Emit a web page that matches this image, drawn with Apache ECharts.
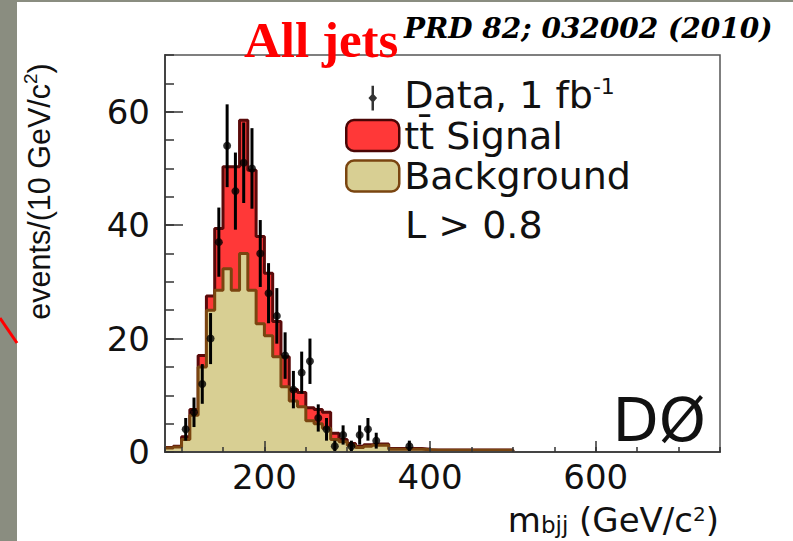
<!DOCTYPE html>
<html>
<head>
<meta charset="utf-8">
<script src="https://cdn.jsdelivr.net/npm/echarts@6/dist/echarts.min.js"></script>
<style>
html,body{margin:0;padding:0;background:#ffffff;}
#chart{width:793px;height:541px;}
</style>
</head>
<body>
<div id="chart"></div>
<script>
// ---- data (10 GeV bins, low edges) ----
const binLow = [80,90,100,110,120,130,140,150,160,170,180,190,200,210,220,230,240,250,260,270,280,290,300,310,320,330,340,350,360,370,380,390,400,410,420,430,440,450,460,470,480,490];
const binEnd = 500;
const backgroundValues = [0.7,0.9,2.2,6.5,15,25,28.5,32.3,28.5,35,28.5,22.6,20.5,16.8,11.5,9,8,5.5,5,4.2,2.2,1.8,1.2,0.8,1.0,1.2,1.2,0.5,0.5,0.5,0.5,0.4,0.3,0.3,0.3,0.3,0.3,0.3,0.3,0.3,0.3,0.3];
const signalValues = [0.1,0.1,0.5,1.0,2,2.5,10.9,18,21.8,23.5,21.2,15.4,11,6.2,5.3,2,2.5,2.3,2.5,2.8,1.1,0.4,0.3,0.2,0.3,0.2,0.2,0.1,0.1,0.1,0.1,0.1,0.05,0.05,0.05,0.05,0.05,0.05,0.05,0.05,0.05,0.05];
const dataMass = [105,115,125,135,145,155,165,175,185,195,205,215,225,235,245,255,265,275,285,295,305,315,325,335,375];
const dataCounts = [4,7,12,20,37,54,46,51,50,35,28,24,17,11,14,16,6,4,1,3,1,3,4,2,1];
const dataErrors = [2,2.6,3.5,4.5,6.1,7.3,6.8,7.1,7.1,5.9,5.3,4.9,4.1,3.3,3.7,4,2.4,2,1,1.7,1,1.7,2,1.4,1];
const xRange = [80, 750];
const yRange = [0, 70];

// ---- build series data ----
const totalStep = binLow.map((x, i) => [x, +(backgroundValues[i] + signalValues[i]).toFixed(3)]);
totalStep.push([binEnd, 0]);
const bkgStep = binLow.map((x, i) => [x, backgroundValues[i]]);
bkgStep.push([binEnd, 0]);
const dataPoints = dataMass.map((m, i) => [m, dataCounts[i]]);
const errorData = dataMass.map((m, i) => [m, dataCounts[i], dataErrors[i]]);

const SANS = "'DejaVu Sans', 'Liberation Sans', sans-serif";
const NARROW = "'Liberation Sans', sans-serif";
const SIG_NAME = 't' + 't\u0304' + ' Signal';

const chart = echarts.init(document.getElementById('chart'), null, {renderer: 'svg'});

const option = {
  animation: false,
  backgroundColor: '#ffffff',
  grid: {
    left: 165, right: 73, top: 55, bottom: 89,
    show: true, borderColor: '#555555', borderWidth: 1.5,
    backgroundColor: 'transparent',
    outerBoundsMode: 'none'
  },
  xAxis: [
    {
      type: 'value', min: xRange[0], max: xRange[1], splitNumber: 13, z: 10,
      axisLine: {show: true, lineStyle: {color: '#444', width: 2}},
      axisTick: {show: true, inside: true, length: 5, lineStyle: {color: '#333', width: 1.5}},
      axisLabel: {show: false},
      splitLine: {show: false}
    },
    {
      type: 'value', min: xRange[0], max: xRange[1], splitNumber: 3, position: 'bottom', z: 11,
      axisLine: {show: false},
      axisTick: {show: true, inside: true, length: 11, lineStyle: {color: '#333', width: 1.5}},
      axisLabel: {show: true, margin: 8, showMinLabel: false, showMaxLabel: false,
        fontFamily: SANS, fontSize: 34, lineHeight: 34, color: '#111'},
      splitLine: {show: false}
    }
  ],
  yAxis: [
    {
      type: 'value', min: yRange[0], max: yRange[1], interval: 5, z: 10,
      axisLine: {show: true, lineStyle: {color: '#444', width: 2}},
      axisTick: {show: true, inside: true, length: 9, lineStyle: {color: '#333', width: 1.5}},
      axisLabel: {show: false},
      splitLine: {show: false}
    },
    {
      type: 'value', min: yRange[0], max: yRange[1], interval: 20, position: 'left', z: 11,
      axisLine: {show: false},
      axisTick: {show: true, inside: true, length: 18, lineStyle: {color: '#333', width: 1.5}},
      axisLabel: {show: true, margin: 15, showMaxLabel: false,
        fontFamily: SANS, fontSize: 34, color: '#111'},
      splitLine: {show: false},
      name: 'events/(10 GeV/c{sup|2})',
      nameLocation: 'middle', nameGap: 126,
      nameTextStyle: {
        fontFamily: NARROW, fontSize: 30.5, color: '#111', verticalAlign: 'middle', align: 'center',
        lineHeight: 36, padding: [0, 0, 0, 124],
        rich: {
          sup: {fontFamily: NARROW, fontSize: 19, lineHeight: 17, verticalAlign: 'top', color: '#111'}
        }
      }
    }
  ],
  legend: {
    orient: 'vertical', left: 340, top: 70,
    itemWidth: 53, itemHeight: 31, itemGap: 0.5, itemTextGap: 12,
    textStyle: {
      fontFamily: SANS, fontSize: 38, color: '#111', lineHeight: 40,
      rich: {sup: {fontFamily: SANS, fontSize: 22, lineHeight: 20, verticalAlign: 'top', color: '#111'}}
    },
    formatter: function (name) { return name === 'Data' ? 'Data, 1 fb{sup|-1}' : name; },
    selectedMode: false,
    data: [
      {name: 'Data', icon: 'path://M7,0 L13,0 L13,0 Z M9,5 L11,5 L11,25 L9,25 Z M10,11 L13.5,15 L10,19 L6.5,15 Z',
        itemStyle: {color: '#000000', borderWidth: 0}},
      {name: SIG_NAME, icon: 'roundRect', itemStyle: {color: '#ff3838', borderColor: '#4a0505', borderWidth: 2.5}},
      {name: 'Background', icon: 'roundRect', itemStyle: {color: '#d8cf93', borderColor: '#7a4510', borderWidth: 2.5}}
    ]
  },
  series: [
    {
      name: SIG_NAME, type: 'line', step: 'end', data: totalStep,
      xAxisIndex: 0, yAxisIndex: 0, symbol: 'none', z: 2,
      itemStyle: {color: '#ff3838', borderColor: '#4a0505'},
      lineStyle: {color: '#5a0a0a', width: 3},
      areaStyle: {color: '#ff3838', opacity: 1}
    },
    {
      name: 'Background', type: 'line', step: 'end', data: bkgStep,
      xAxisIndex: 0, yAxisIndex: 0, symbol: 'none', z: 3,
      itemStyle: {color: '#d8cf93', borderColor: '#7a4510'},
      lineStyle: {color: '#7a4510', width: 3},
      areaStyle: {color: '#d8cf93', opacity: 1}
    },
    {
      name: 'Data errors', type: 'custom', data: errorData,
      xAxisIndex: 0, yAxisIndex: 0, z: 5, silent: true, clip: true,
      renderItem: function (params, api) {
        const x = api.value(0), y = api.value(1), e = api.value(2);
        const p1 = api.coord([x, Math.max(0, y - e)]);
        const p2 = api.coord([x, y + e]);
        return {type: 'line', shape: {x1: p1[0], y1: p1[1], x2: p2[0], y2: p2[1]},
          style: {stroke: '#000000', lineWidth: 3}};
      }
    },
    {
      name: 'Data', type: 'scatter', data: dataPoints,
      xAxisIndex: 0, yAxisIndex: 0, z: 6, symbol: 'circle', symbolSize: 8,
      itemStyle: {color: '#000000'}
    }
  ],
  graphic: [
    {type: 'rect', left: 0, top: 0, shape: {width: 17, height: 541}, style: {fill: '#8a8d80'}, silent: true},
    {type: 'rect', left: 0, top: 0, shape: {width: 793, height: 2}, style: {fill: '#8a8d80'}, silent: true},
    {type: 'line', shape: {x1: 0, y1: 318, x2: 17, y2: 343}, style: {stroke: '#ff0000', lineWidth: 3}, silent: true},
    {type: 'text', x: 244, y: 40, silent: true,
      style: {text: 'All jets', fill: '#ff0000', font: "bold 51px 'Liberation Serif', serif", align: 'left', verticalAlign: 'middle'}},
    {type: 'text', x: 404, y: 28, silent: true,
      style: {text: 'PRD 82; 032002 (2010)', fill: '#000000', font: "italic bold 28px 'DejaVu Serif', serif", align: 'left', verticalAlign: 'middle'}},
    {type: 'text', x: 405, y: 225, silent: true,
      style: {text: 'L > 0.8', fill: '#111111', font: "38px 'DejaVu Sans', sans-serif", align: 'left', verticalAlign: 'middle'}},
    {type: 'text', x: 706, y: 420, silent: true,
      style: {text: 'DØ', fill: '#111111', font: "60px 'DejaVu Sans', sans-serif", align: 'right', verticalAlign: 'middle'}},
    {type: 'text', x: 719, y: 520, silent: true,
      style: {
        text: 'm{sub|bjj} (GeV/c{sup|2})', fill: '#111111',
        font: "34px 'DejaVu Sans', sans-serif", lineHeight: 32,
        align: 'right', verticalAlign: 'middle',
        rich: {
          sub: {font: "23px 'DejaVu Sans', sans-serif", lineHeight: 16, verticalAlign: 'bottom', fill: '#111111'},
          sup: {font: "20px 'DejaVu Sans', sans-serif", lineHeight: 16, verticalAlign: 'top', fill: '#111111'}
        }
      }}
  ]
};
chart.setOption(option);
</script>
</body>
</html>
